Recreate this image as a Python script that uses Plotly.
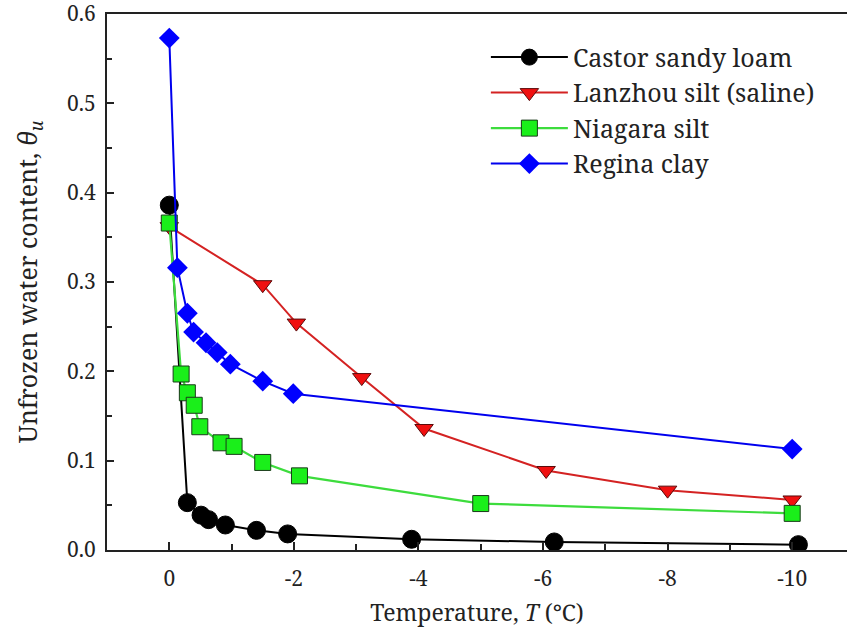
import plotly.graph_objects as go

# Castor sandy loam
castor_T = [0, -0.29, -0.51, -0.63, -0.90, -1.40, -1.90, -3.89, -6.18, -10.1]
castor_w = [0.386, 0.053, 0.039, 0.034, 0.028, 0.022, 0.018, 0.012, 0.009, 0.006]

# Lanzhou silt (saline)
lanzhou_T = [0, -1.50, -2.04, -3.09, -4.09, -6.05, -8.0, -10.0]
lanzhou_w = [0.362, 0.297, 0.254, 0.193, 0.136, 0.089, 0.067, 0.056]

# Niagara silt
niagara_T = [0, -0.19, -0.29, -0.40, -0.49, -0.83, -1.04, -1.50, -2.09, -5.0, -10.0]
niagara_w = [0.366, 0.197, 0.176, 0.162, 0.138, 0.120, 0.116, 0.098, 0.083, 0.052, 0.041]

# Regina clay
regina_T = [0, -0.13, -0.29, -0.39, -0.59, -0.77, -0.98, -1.50, -1.99, -10.0]
regina_w = [0.573, 0.316, 0.265, 0.244, 0.232, 0.221, 0.208, 0.189, 0.175, 0.113]

series_names = ["Castor sandy loam", "Lanzhou silt (saline)", "Niagara silt", "Regina clay"]

x_ticks = [0, -2, -4, -6, -8, -10]
y_ticks = [0.0, 0.1, 0.2, 0.3, 0.4, 0.5, 0.6]

FONT = "Noto Serif, DejaVu Serif"

fig = go.Figure()
fig.add_trace(go.Scatter(
    x=castor_T, y=castor_w, name=series_names[0], mode="lines+markers",
    line=dict(color="#000000", width=2),
    marker=dict(symbol="circle", size=18, color="#000000",
                line=dict(color="#000000", width=1))))
fig.add_trace(go.Scatter(
    x=lanzhou_T, y=lanzhou_w, name=series_names[1], mode="lines+markers",
    line=dict(color="#d42222", width=2),
    marker=dict(symbol="triangle-down", size=16, color="#f01010",
                line=dict(color="#5a0a0a", width=1))))
fig.add_trace(go.Scatter(
    x=niagara_T, y=niagara_w, name=series_names[2], mode="lines+markers",
    line=dict(color="#3ddc3d", width=2.2),
    marker=dict(symbol="square", size=16, color="#1aef1a",
                line=dict(color="#1a3a1a", width=1))))
fig.add_trace(go.Scatter(
    x=regina_T, y=regina_w, name=series_names[3], mode="lines+markers",
    line=dict(color="#0000ee", width=2),
    marker=dict(symbol="diamond", size=16, color="#0000ff",
                line=dict(color="#0000ff", width=0))))

fig.update_layout(
    width=847, height=634,
    margin=dict(l=107, r=0, t=14, b=84, autoexpand=False),
    paper_bgcolor="white", plot_bgcolor="white",
    font=dict(family=FONT, size=21, color="#222222"),
    showlegend=True,
    legend=dict(x=0.512, y=0.962, xanchor="left", yanchor="top",
                bgcolor="rgba(0,0,0,0)", borderwidth=0,
                font=dict(family=FONT, size=25, color="#222222"),
                itemwidth=77, tracegroupgap=0),
)

fig.update_xaxes(
    range=[1.0, -10.88], automargin=False,
    tickvals=x_ticks, ticktext=[str(v) for v in x_ticks],
    ticks="inside", ticklen=8, tickwidth=1.5, tickcolor="#222",
    minor=dict(dtick=1, ticks="inside", ticklen=6, tickwidth=1.5, tickcolor="#222"),
    showline=True, linecolor="#222", linewidth=2, mirror=True,
    showgrid=False, zeroline=False,
    ticklabelstandoff=9,
    title=dict(text="Temperature, <i>T</i> (℃)", standoff=14,
               font=dict(family=FONT, size=23, color="#222")),
)
fig.update_yaxes(
    range=[0, 0.6], automargin=False,
    tickvals=y_ticks, ticktext=["%.1f" % v for v in y_ticks],
    ticks="inside", ticklen=7, tickwidth=1.5, tickcolor="#222",
    minor=dict(dtick=0.05, ticks="inside", ticklen=5, tickwidth=1.5, tickcolor="#222"),
    showline=True, linecolor="#222", linewidth=2,
    showgrid=False, zeroline=False,
    ticklabelstandoff=5, ticklabeloverflow="allow",
    title=dict(text="Unfrozen water content, <i>θ<sub>u</sub></i>", standoff=22,
               font=dict(family=FONT, size=25, color="#222")),
)

# remove the default page margin so the figure fills the window exactly
fig.write_html("out.html", config={"displayModeBar": False},
               post_script="document.body.style.margin='0';")
